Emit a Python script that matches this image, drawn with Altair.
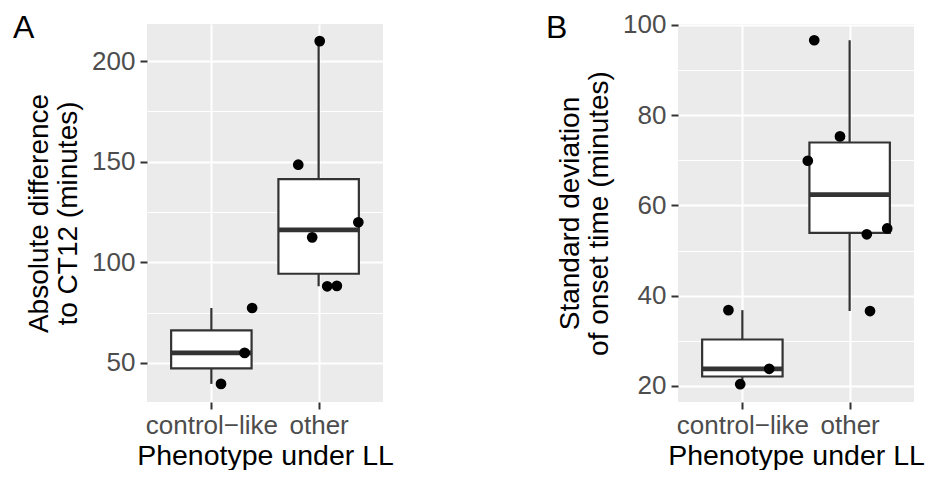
import altair as alt
import pandas as pd

# ---- data ----
categories = ["control\u2212like", "other"]

a_cat = ["control\u2212like"] * 3 + ["other"] * 6
a_val = [39.6, 55.0, 77.3, 209.9, 148.5, 112.4, 119.9, 88.1, 88.3]
a_jit = [0.09, 0.31, 0.38, 0.01, -0.19, -0.06, 0.37, 0.08, 0.17]

b_cat = ["control\u2212like"] * 3 + ["other"] * 6
b_val = [36.8, 20.4, 23.8, 96.6, 75.3, 69.9, 53.6, 54.9, 36.6]
b_jit = [-0.13, -0.02, 0.25, -0.33, -0.09, -0.39, 0.16, 0.35, 0.19]

a_ticks = [50, 75, 100, 125, 150, 175, 200]
b_ticks = [20, 30, 40, 50, 60, 70, 80, 90, 100]

FONT = "Liberation Sans"
W, H = 236, 378
HALF = 0.375
cat_js = "[" + ",".join("'" + c + "'" for c in categories) + "]"


def panel(cats, vals, jits, ydomain, yticks, major, ytitle, tag, xtag):
    df = pd.DataFrame({"cat": cats, "v": vals, "jit": jits})
    base = alt.Chart(df).transform_calculate(
        idx=f"indexof({cat_js}, datum.cat) + 1"
    )
    xscale = alt.Scale(domain=[0.4, 2.6], nice=False, zero=False)
    yscale = alt.Scale(domain=ydomain, nice=False, zero=False)
    xaxis = alt.Axis(
        values=[1, 2],
        labelExpr=f"{cat_js}[datum.value - 1]",
        title="Phenotype under LL",
        titleFontSize=28.5, titleFontWeight="normal", titleColor="black", titleFont=FONT,
        titlePadding=3,
        labelFontSize=26, labelColor="#4D4D4D", labelFont=FONT, labelPadding=3,
        tickSize=7, tickWidth=2, tickColor="#333333",
        domain=False, grid=True, gridColor="white", gridWidth=2,
    )
    yaxis = alt.Axis(
        values=yticks,
        labelExpr=f"datum.value % {major} === 0 ? datum.label : ''",
        title=ytitle,
        titleFontSize=28, titleFontWeight="normal", titleColor="black", titleFont=FONT,
        titleLineHeight=29, titlePadding=9,
        labelFontSize=26, labelColor="#4D4D4D", labelFont=FONT, labelPadding=5,
        tickSize=7, tickWidth=2, tickColor="#333333",
        tickOpacity={"condition": {"test": f"datum.value % {major} !== 0", "value": 0}, "value": 1},
        domain=False, grid=True, gridColor="white",
        gridWidth={"condition": {"test": f"datum.value % {major} !== 0", "value": 1}, "value": 2},
    )

    whisk = base.transform_joinaggregate(
        q1="q1(v)", q3="q3(v)", groupby=["idx"]
    ).transform_filter(
        "datum.v >= datum.q1 - 1.5*(datum.q3-datum.q1) && datum.v <= datum.q3 + 1.5*(datum.q3-datum.q1)"
    ).transform_aggregate(
        lo="min(v)", hi="max(v)", groupby=["idx"]
    ).mark_rule(color="#333333", strokeWidth=2.2).encode(
        x=alt.X("idx:Q", scale=xscale, axis=xaxis),
        y=alt.Y("lo:Q", scale=yscale, axis=yaxis),
        y2="hi:Q",
    )

    stats = base.transform_aggregate(
        q1="q1(v)", q3="q3(v)", med="median(v)", groupby=["idx"]
    ).transform_calculate(
        xl=f"datum.idx - {HALF}", xr=f"datum.idx + {HALF}"
    )
    box = stats.mark_rect(fill="white", stroke="#333333", strokeWidth=2.2).encode(
        x="xl:Q", x2="xr:Q", y="q1:Q", y2="q3:Q"
    )
    med = stats.mark_rule(color="#333333", strokeWidth=4.8, strokeCap="butt").encode(
        x="xl:Q", x2="xr:Q", y="med:Q"
    )
    pts = base.transform_calculate(xp="datum.idx + datum.jit").mark_circle(
        color="black", opacity=1, size=115
    ).encode(x="xp:Q", y="v:Q")

    tagc = alt.Chart(pd.DataFrame({"t": [tag]})).mark_text(
        font=FONT, fontSize=32, align="left", baseline="alphabetic", color="black"
    ).encode(text="t:N", x=alt.value(xtag), y=alt.value(14))

    return alt.layer(whisk, box, med, pts, tagc).properties(width=W, height=H)


pa = panel(a_cat, a_val, a_jit, [30.6, 218.4], a_ticks, 50,
           ["Absolute difference", "to CT12 (minutes)"], "A", -134)
pb = panel(b_cat, b_val, b_jit, [16.45, 100.2], b_ticks, 20,
           ["Standard deviation", "of onset time (minutes)"], "B", -132)

chart = alt.hconcat(pa, pb, spacing=152).properties(
    padding={"left": 5, "top": 3, "right": 0, "bottom": 0}
).configure(
    font=FONT, background="white"
).configure_view(fill="#EBEBEB", stroke=None)

chart.save("out.html", embed_options={"renderer": "svg", "actions": False})
